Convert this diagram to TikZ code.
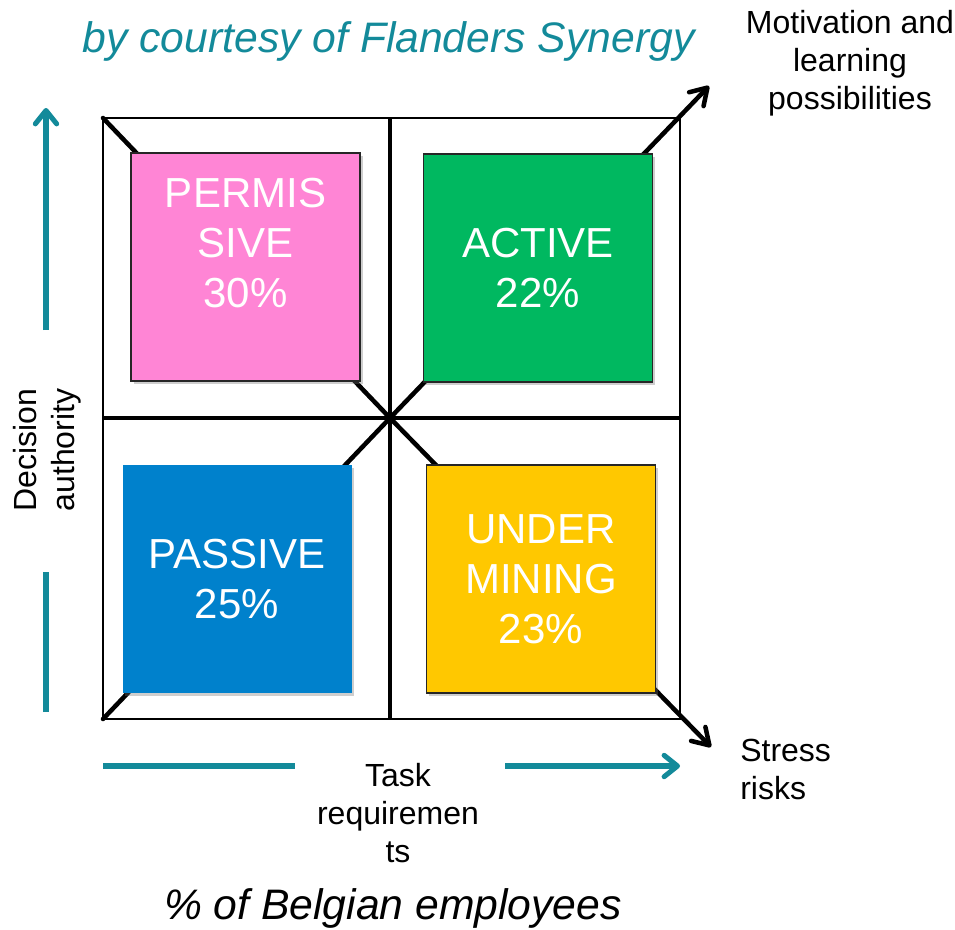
\documentclass[tikz,border=0pt]{standalone}
\usepackage{fontspec}
\setmainfont{Liberation Sans}
\usetikzlibrary{arrows.meta,backgrounds,shadows}

\definecolor{axisteal}{HTML}{138A9A}
\definecolor{permfill}{HTML}{FF85D5}
\definecolor{actfill}{HTML}{00B860}
\definecolor{pasfill}{HTML}{0081CC}
\definecolor{undfill}{HTML}{FFC800}

\begin{document}
\begin{tikzpicture}[x=0.75pt,y=-0.75pt,
  lbl/.style={font=\fontsize{24}{28.5}\selectfont, inner sep=0pt},
  headline/.style={font=\fontsize{32}{38}\selectfont\itshape, inner sep=0pt},
  quad/.style={minimum width=171.75pt, minimum height=171pt, inner sep=0pt, outer sep=0pt,
    text=white, align=center, font=\fontsize{31.5}{37.5}\selectfont,
    drop shadow={shadow xshift=2.2pt, shadow yshift=-2.2pt, opacity=0.35, fill=black!55}},
  quadtext/.style={text=white, align=center, font=\fontsize{31.5}{37.5}\selectfont, inner sep=0pt},
  rim/.style={draw=black!85, line width=1.1pt},
  frame/.style={draw=black, line width=1.5pt, minimum width=432.75pt, minimum height=450.75pt, inner sep=0pt, outer sep=0pt},
  cross/.style={line width=3pt},
  diag/.style={line width=3.4pt, line cap=round},
  diagarrow/.style={diag, -{Straight Barb[length=12pt,width=15pt,round]}},
  axisline/.style={draw=axisteal, line width=3.8pt},
  axisarrow/.style={axisline, -{Straight Barb[length=10pt,width=16pt,round]}}
]
\useasboundingbox (0,0) rectangle (955,929);

% outer frame of the grid and its centre
\node[frame] (frame) at (391.5,418.5) {};
\coordinate (c) at (390,418);

% the four quadrants
\node[quad, fill=permfill, rim] (perm) at (245.5,267) {};
\node[quadtext] (permtxt) at (245.5,243) {PERMIS\\SIVE\\30\%};
\node[quad, fill=actfill, rim] (act) at (538,268) {ACTIVE\\22\%};
\node[quad, fill=pasfill] (pas) at (237,579) {PASSIVE\\25\%};
\node[quad, fill=undfill, rim, line width=1.4pt] (und) at (541,579) {UNDER\\MINING\\23\%};

% diagonal end points
\coordinate (mtip) at (709,86);
\coordinate (stip) at (711,747);

\begin{scope}[on background layer]
  \draw[cross] (c |- frame.north) -- (c |- frame.south);
  \draw[cross] (frame.west |- c) -- (frame.east |- c);
  \draw[diag] (frame.north west) -- (c);
  \draw[diag] (frame.south west) -- (c);
  \draw[diagarrow] (c) -- (mtip);
  \draw[diagarrow] (c) -- (stip);
\end{scope}

% axis arrows
\coordinate (vlow1) at (46,712);
\coordinate (vlow2) at (46,572);
\coordinate (vup1) at (46,330);
\coordinate (vup2) at (46,108);
\draw[axisline] (vlow1) -- (vlow2);
\draw[axisarrow] (vup1) -- (vup2);

\coordinate (hl1) at (103,766);
\coordinate (hl2) at (295,766);
\coordinate (hr1) at (505,766);
\coordinate (hr2) at (680,766);
\draw[axisline] (hl1) -- (hl2);
\draw[axisarrow] (hr1) -- (hr2);

% labels
\node[headline, text=axisteal] (credit) at (388.5,41) {by courtesy of Flanders Synergy};
\node[lbl, align=center] (motiv) at (850,63) {Motivation and\\learning\\possibilities};
\node[lbl, align=left, anchor=west] (stress) at (740,769) {Stress\\risks};
\node[lbl, align=center] (task) at (398,813) {Task\\requiremen\\ts};
\node[lbl, align=center, rotate=90] (decision) at (47,450) {Decision\\authority};
\node[headline] (share) at (393,908) {\% of Belgian employees};
\end{tikzpicture}
\end{document}
